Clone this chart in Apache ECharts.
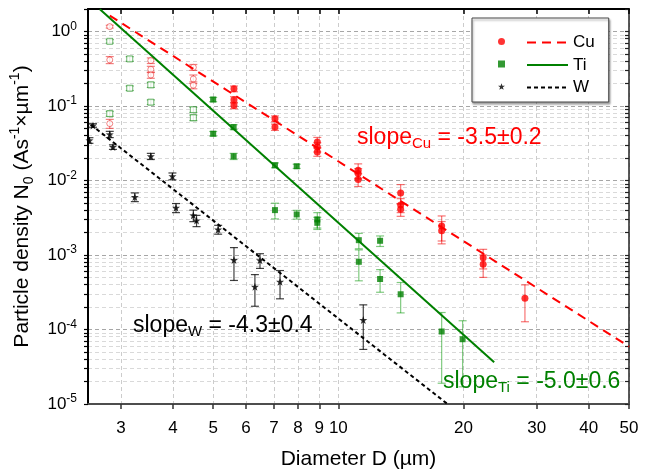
<!DOCTYPE html>
<html><head><meta charset="utf-8">
<script src="https://cdn.jsdelivr.net/npm/echarts@6/dist/echarts.min.js"></script>
<style>html,body{margin:0;padding:0;background:#fff}#c{width:665px;height:473px}</style>
</head><body><div id="c"></div>
<script>
const FONT = '"Liberation Sans", Arial, sans-serif';
// axis ticks / labels
const xTickValues = [3, 4, 5, 6, 7, 8, 9, 10, 20, 30, 40, 50];
const yLabelValues = [1e-5, 1e-4, 1e-3, 1e-2, 1e-1, 1];
const yMinorMultipliers = [1, 2, 3, 4, 5, 6, 7, 8, 9];

// Cu (open = early points, filled = main points)
const cuOpenD = [2.82, 2.82, 2.82, 3.54, 3.54, 3.54, 4.48, 4.48, 4.48];
const cuOpenN = [1.16, 0.415, 0.058, 0.406, 0.31, 0.26, 0.33, 0.23, 0.19];
const cuOpenErr = [0.05, 0.045, 0.008, 0.035, 0.03, 0.025, 0.03, 0.03, 0.02];
const cuD = [5.61, 5.61, 5.61, 7.04, 7.04, 8.9, 8.9, 8.9, 11.16, 11.16, 11.16, 14.12, 14.12, 14.12, 17.72, 17.72, 22.3, 22.3, 28.1];
const cuN = [0.170, 0.121, 0.1016, 0.0674, 0.052, 0.0328, 0.0281, 0.0241, 0.0137, 0.0124, 0.0103, 0.0068, 0.0047, 0.0041, 0.00244, 0.00211, 0.00092, 0.00075, 0.000262];
const cuErr = [0.015, 0.012, 0.01, 0.006, 0.005, 0.005, 0.004, 0.003, 0.003, 0.002, 0.002, 0.002, 0.001, 0.0008, 0.0009, 0.0007, 0.00027, 0.00025, 0.000135];

// Ti
const tiOpenD = [2.82, 2.82, 3.15, 3.15, 3.54, 3.54, 4.48, 4.48];
const tiOpenN = [0.737, 0.0787, 0.428, 0.173, 0.192, 0.1124, 0.0889, 0.0695];
const tiOpenErr = [0.04, 0.006, 0.03, 0.012, 0.015, 0.008, 0.007, 0.006];
const tiD = [5.0, 5.0, 5.6, 5.6, 7.04, 7.04, 7.94, 7.94, 8.9, 8.9, 11.2, 11.2, 12.6, 12.6, 14.12, 17.72, 19.9];
const tiN = [0.122, 0.0424, 0.052, 0.0211, 0.0160, 0.0040, 0.0155, 0.0035, 0.0030, 0.0027, 0.00158, 0.00081, 0.00155, 0.000476, 0.000297, 9.4e-5, 7.4e-5];
const tiErr = [0.008, 0.003, 0.004, 0.002, 0.0012, 0.00095, 0.001, 0.00047, 0.0007, 0.0005, 0.00037, 0.00036, 0.00025, 0.00016, 0.00013, 7.5e-5, 5.7e-5];

// W
const wD = [2.52, 2.57, 2.82, 2.87, 3.24, 3.54, 3.99, 4.07, 4.48, 4.56, 5.14, 5.61, 6.30, 6.48, 7.24, 11.48];
const wN = [0.0345, 0.0548, 0.0416, 0.0281, 0.0060, 0.0211, 0.0114, 0.0043, 0.0034, 0.0029, 0.0022, 0.000855, 0.000375, 0.00085, 0.000438, 0.000134];
const wErr = [0.003, 0.003, 0.004, 0.002, 0.0008, 0.002, 0.0012, 0.0006, 0.0006, 0.0005, 0.0003, 0.0004, 0.00017, 0.00019, 0.00018, 8e-5];

// power-law fit lines (end points)
const cuFitD = [2.82, 50], cuFitN = [1.63, 5.9e-5];
const tiFitD = [2.67, 23.7], tiFitN = [1.98, 3.63e-5];
const wFitD = [2.54, 18.3], wFitN = [0.056, 1e-5];

const yTickValues = [];
yLabelValues.forEach(d => yMinorMultipliers.forEach(m => { const v = +(m * d).toPrecision(3); if (v <= 2) yTickValues.push(v); }));

const STAR = 'path://M0,-10 L2.35,-3.24 L9.51,-3.09 L3.8,1.24 L5.88,8.09 L0,4.2 L-5.88,8.09 L-3.8,1.24 L-9.51,-3.09 L-2.35,-3.24 Z';

function pts(D, N) { return D.map((d, i) => [d, N[i]]); }
function errSeries(D, N, E, color) {
  return {
    type: 'custom', xAxisIndex: 0, yAxisIndex: 0, clip: true, silent: true, z: 2,
    data: D.map((d, i) => [d, Math.max(N[i] - E[i], 1e-9), N[i] + E[i]]),
    encode: { x: 0, y: [1, 2] },
    renderItem: function (params, api) {
      const top = api.coord([api.value(0), api.value(2)]);
      const bot = api.coord([api.value(0), api.value(1)]);
      const hw = 4;
      const st = { stroke: color, lineWidth: 1.2 };
      return { type: 'group', children: [
        { type: 'line', shape: { x1: top[0], y1: top[1], x2: bot[0], y2: bot[1] }, style: st },
        { type: 'line', shape: { x1: top[0] - hw, y1: top[1], x2: top[0] + hw, y2: top[1] }, style: st },
        { type: 'line', shape: { x1: bot[0] - hw, y1: bot[1], x2: bot[0] + hw, y2: bot[1] }, style: st }
      ] };
    }
  };
}
function fitSeries(name, D, N, color, type) {
  return { name: name, type: 'line', xAxisIndex: 0, yAxisIndex: 0, data: pts(D, N), symbol: 'none', showSymbol: false, z: 5,
    lineStyle: { color: color, width: 2, type: type }, itemStyle: { color: color } };
}
function slopeText(left, top, sub, rest, color) {
  return { type: 'text', left: left, top: top, z: 100, style: { text: '{t|slope}{s|' + sub + '}{t|' + rest + '}', fill: color,
    rich: { t: { fontSize: 23, lineHeight: 28, fontFamily: FONT, fill: color },
            s: { fontSize: 15, lineHeight: 15, verticalAlign: 'bottom', fontFamily: FONT, fill: color } } } };
}

const major = '#a6a6a6', minor = '#d9d9d9';
const chart = echarts.init(document.getElementById('c'));
chart.setOption({
  animation: false,
  backgroundColor: '#fff',
  textStyle: { fontFamily: FONT },
  grid: { left: 88, right: 36, top: 9, bottom: 69, outerBoundsMode: 'none', containLabel: false },
  xAxis: [
    { type: 'log', logBase: 10, min: 2.5, max: 50, position: 'bottom',
      name: 'Diameter D (µm)', nameLocation: 'middle', nameGap: 45,
      nameTextStyle: { fontSize: 21, color: '#000', fontFamily: FONT },
      axisLine: { show: true, lineStyle: { color: '#4d4d4d', width: 2 } },
      axisTick: { show: true, customValues: xTickValues, length: 5, inside: false, lineStyle: { color: '#333', width: 1.5 } },
      axisLabel: { customValues: xTickValues, fontSize: 17, color: '#000', margin: 16, fontFamily: FONT, formatter: v => String(Math.round(v)) },
      splitLine: { show: true, lineStyle: { color: '#cccccc', type: [4, 3], width: 1 } },
      minorTick: { show: false }, minorSplitLine: { show: false } },
    { type: 'log', logBase: 10, min: 2.5, max: 50, position: 'top',
      axisLine: { show: true, lineStyle: { color: '#000', width: 2 } },
      axisTick: { show: true, customValues: xTickValues, length: 5, inside: true, lineStyle: { color: '#000', width: 1.5 } },
      axisLabel: { show: false }, splitLine: { show: false } }
  ],
  yAxis: [
    { type: 'log', logBase: 10, min: 1e-5, max: 2, position: 'left',
      name: 'Particle density N{sub|0} (As{sup|-1}×µm{sup|-1})', nameLocation: 'middle', nameGap: 44,
      nameTextStyle: { fontSize: 21, color: '#000', fontFamily: FONT, lineHeight: 28,
        rich: { sub: { fontSize: 14, lineHeight: 14, verticalAlign: 'bottom', fontFamily: FONT, color: '#000' },
                sup: { fontSize: 14, lineHeight: 14, verticalAlign: 'top', fontFamily: FONT, color: '#000' } } },
      axisLine: { show: true, lineStyle: { color: '#000', width: 2 } },
      axisTick: { show: true, customValues: yTickValues, length: 4, inside: false, lineStyle: { color: '#000', width: 1.2 } },
      axisLabel: { customValues: yLabelValues, fontSize: 17, color: '#000', margin: 11, fontFamily: FONT, lineHeight: 22,
        formatter: v => '10{sup|' + Math.round(Math.log10(v)) + '}',
        rich: { sup: { fontSize: 12, lineHeight: 12, verticalAlign: 'top', fontFamily: FONT, color: '#000' } } },
      splitLine: { show: true, lineStyle: { color: [major, minor, minor, minor, minor, minor, minor, minor, minor], type: [4, 3], width: 1 } },
      minorTick: { show: false }, minorSplitLine: { show: false } },
    { type: 'log', logBase: 10, min: 1e-5, max: 2, position: 'right',
      axisLine: { show: true, lineStyle: { color: '#222', width: 1.5 } },
      axisTick: { show: true, customValues: yTickValues, length: 4, inside: true, lineStyle: { color: '#222', width: 1.2 } },
      axisLabel: { show: false }, splitLine: { show: false } }
  ],
  legend: [
    { orient: 'vertical', left: 498, top: 33, padding: 0, itemGap: 5.5, itemWidth: 7, itemHeight: 7,
      data: ['Cu', 'Ti', 'W'], selectedMode: false,
      textStyle: { color: 'rgba(0,0,0,0)', fontSize: 17, lineHeight: 16, fontFamily: FONT } },
    { orient: 'vertical', left: 472, top: 18, padding: [16, 14, 6, 54], itemGap: 5.5, itemWidth: 41, itemHeight: 14,
      data: ['Cu fit', 'Ti fit', 'W fit'], selectedMode: false,
      formatter: n => n.replace(' fit', ''),
      itemStyle: { color: 'rgba(0,0,0,0)', borderWidth: 0, opacity: 0 },
      borderColor: '#444', borderWidth: 1, backgroundColor: '#fff',
      shadowColor: 'rgba(0,0,0,0.35)', shadowBlur: 2, shadowOffsetX: 1, shadowOffsetY: 2,
      textStyle: { color: '#000', fontSize: 17, lineHeight: 16, fontFamily: FONT } }
  ],
  graphic: [
    slopeText(357, 126, 'Cu', ' = -3.5±0.2', '#ff0000'),
    slopeText(133, 314, 'W', ' = -4.3±0.4', '#000'),
    slopeText(443, 370, 'Ti', ' = -5.0±0.6', '#008000')
  ],
  series: [
    errSeries(cuOpenD, cuOpenN, cuOpenErr, 'rgba(230,0,0,0.5)'),
    errSeries(cuD, cuN, cuErr, 'rgba(240,0,0,0.55)'),
    errSeries(tiOpenD, tiOpenN, tiOpenErr, 'rgba(0,128,0,0.55)'),
    errSeries(tiD, tiN, tiErr, 'rgba(0,150,0,0.5)'),
    errSeries(wD, wN, wErr, 'rgba(0,0,0,0.75)'),
    { name: 'Cu open', type: 'scatter', data: pts(cuOpenD, cuOpenN), symbol: 'circle', symbolSize: 6, z: 3,
      itemStyle: { color: '#fff', borderColor: 'rgba(230,0,0,0.6)', borderWidth: 1 } },
    { name: 'Ti open', type: 'scatter', data: pts(tiOpenD, tiOpenN), symbol: 'rect', symbolSize: 6, z: 3,
      itemStyle: { color: '#fff', borderColor: 'rgba(0,128,0,0.7)', borderWidth: 1 } },
    { name: 'Cu', type: 'scatter', data: pts(cuD, cuN), symbol: 'circle', symbolSize: 7, z: 4, itemStyle: { color: '#ff0000' } },
    { name: 'Ti', type: 'scatter', data: pts(tiD, tiN), symbol: 'rect', symbolSize: 6, z: 4, itemStyle: { color: '#008000' } },
    { name: 'W', type: 'scatter', data: pts(wD, wN), symbol: STAR, symbolSize: 8, z: 4, itemStyle: { color: '#000' } },
    fitSeries('Cu fit', cuFitD, cuFitN, '#ff0000', [9, 6]),
    fitSeries('Ti fit', tiFitD, tiFitN, '#008000', 'solid'),
    fitSeries('W fit', wFitD, wFitN, '#000', [4, 3])
  ]
});
</script></body></html>
